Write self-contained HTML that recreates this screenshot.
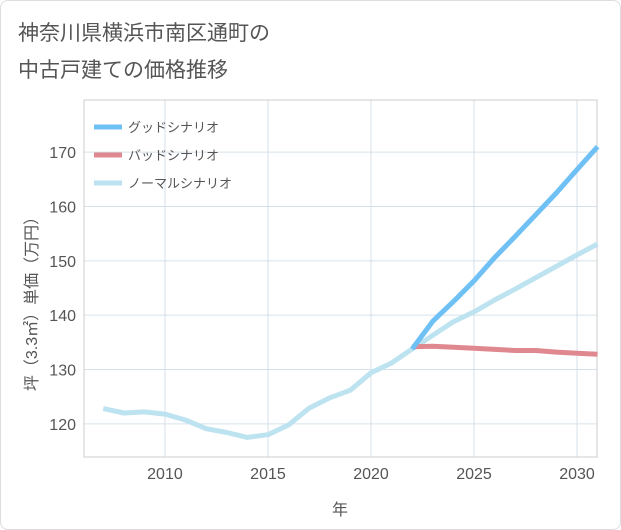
<!DOCTYPE html>
<html><head><meta charset="utf-8"><style>
body{margin:0;background:#fff;}
#wrap{position:relative;width:621px;height:530px;font-family:"Liberation Sans","Noto Sans CJK JP",sans-serif;}
.card{position:absolute;left:0;top:0;width:619px;height:528px;border:1px solid #ddd;border-radius:8px;}
</style></head><body>
<div id="wrap">
<div class="card"></div>
<svg id="chart" width="621" height="530" style="position:absolute;left:0;top:0">
<text x="18" y="40" font-size="21" fill="#555">神奈川県横浜市南区通町の</text>
<text x="18" y="77" font-size="21" fill="#555">中古戸建ての価格推移</text>
<g id="grid"></g><g id="series"></g><g id="axes"></g>
</svg>
</div>
<script>
const normalYears=[2007,2008,2009,2010,2011,2012,2013,2014,2015,2016,2017,2018,2019,2020,2021,2022,2023,2024,2025,2026,2027,2028,2029,2030,2031];
const normalVals=[122.8,122.0,122.2,121.8,120.7,119.1,118.4,117.5,118.0,119.8,122.9,124.8,126.2,129.4,131.2,133.8,136.3,138.8,140.6,142.8,144.8,146.9,149.0,151.1,153.1];
const scenYears=[2022,2023,2024,2025,2026,2027,2028,2029,2030,2031];
const goodVals=[133.8,138.9,142.5,146.3,150.6,154.5,158.5,162.5,166.8,171.0];
const badVals=[134.2,134.3,134.1,133.9,133.7,133.5,133.5,133.2,133.0,132.8];
const xTicks=[2010,2015,2020,2025,2030];
const yTicks=[120,130,140,150,160,170];
const L=84,R=597,T=100,B=457,X0=2006.07,X1=2030.97,Y0=113.9,Y1=179.6;
const xs=v=>L+(v-X0)/(X1-X0)*(R-L);
const ys=v=>B-(v-Y0)/(Y1-Y0)*(B-T);
const NS="http://www.w3.org/2000/svg";
function mk(tag,attrs,parent){const e=document.createElementNS(NS,tag);for(const k in attrs)e.setAttribute(k,attrs[k]);document.getElementById(parent).appendChild(e);return e;}
for(const t of xTicks){
 const l=mk('line',{x1:xs(t),x2:xs(t),y1:T,y2:B,stroke:'#d5e0ea','stroke-width':1},'grid');
 
 
 const tx=mk('text',{x:xs(t),y:B+22,'font-size':16,fill:'#555','text-anchor':'middle'},'axes');
 tx.textContent=t;
 
 
}
for(const t of yTicks){
 const l=mk('line',{x1:L,x2:R,y1:ys(t),y2:ys(t),stroke:'#d5e0ea','stroke-width':1},'grid');
 
 
 const tx=mk('text',{x:L-8,y:ys(t)+6,'font-size':16,fill:'#555','text-anchor':'end'},'axes');
 tx.textContent=t;
 
 
}
const frame=mk('rect',{x:L,y:T,width:R-L,height:B-T,fill:'none',stroke:'#ccc'},'grid');


function line(xv,yv,color,name){
 const d=xv.map((x,i)=>(i?'L':'M')+xs(x).toFixed(1)+','+ys(yv[i]).toFixed(1)).join('');
 const p=mk('path',{d:d,fill:'none',stroke:color,'stroke-width':5,'stroke-linejoin':'round','stroke-linecap':'butt'},'series');
 
 
}
line(normalYears,normalVals,'#bde3f0','normal-scenario-line');
line(scenYears,badVals,'#e08890','bad-scenario-line');
line(scenYears,goodVals,'#6ec0f5','good-scenario-line');
const legend=[['グッドシナリオ','#6ec0f5'],['バッドシナリオ','#e08890'],['ノーマルシナリオ','#bde3f0']];
legend.forEach((e,i)=>{
 const y=127+i*28;
 const l=mk('line',{x1:94,x2:122,y1:y,y2:y,stroke:e[1],'stroke-width':5},'axes');
 
 
 const t=mk('text',{x:128,y:y+5,'font-size':13,fill:'#555'},'axes');
 t.textContent=e[0];
 
 
});
const xt=mk('text',{x:340,y:515,'font-size':16,fill:'#555','text-anchor':'middle'},'axes');
xt.textContent='年';


const yt=mk('text',{x:0,y:0,'font-size':16,fill:'#555','text-anchor':'middle',transform:'translate(37,300) rotate(-90)'},'axes');
yt.textContent='坪（3.3㎡）単価（万円）';


</script>
</body></html>
